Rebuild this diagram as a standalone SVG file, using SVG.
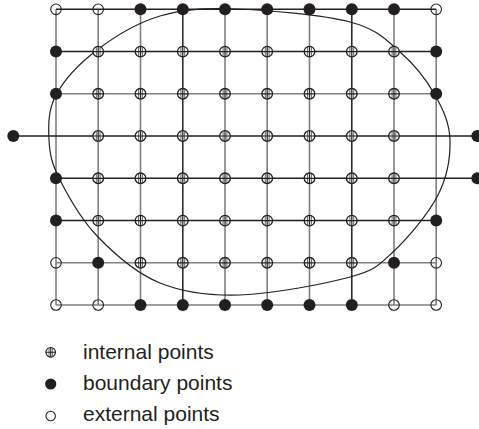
<svg xmlns="http://www.w3.org/2000/svg" xmlns:xlink="http://www.w3.org/1999/xlink" width="479" height="429" viewBox="0 0 479 429">
<style>
.gl{stroke:#808080;stroke-width:1.6;fill:none}
.bl{stroke:#231f20;stroke-width:1.5;fill:none}
.curve{stroke:#231f20;stroke-width:1.2;fill:none}
.lbl{font-family:"Liberation Sans",Arial,Helvetica,sans-serif;font-size:21px;fill:#231f20}
</style>
<defs>
<g id="int">
<circle r="5.3" fill="#fff" stroke="#231f20" stroke-width="1.3"/>
<path d="M-5.3 0H5.3M0 -5.3V5.3" stroke="#231f20" stroke-width="1.2"/>
<path d="M-1.9 -4.9V4.9M1.9 -4.9V4.9" stroke="#231f20" stroke-width="0.7"/>
</g>
<circle id="bnd" r="6" fill="#231f20"/>
<circle id="ext" r="5.3" fill="none" stroke="#231f20" stroke-width="1.1"/>
</defs>
<rect width="479" height="429" fill="#fff"/>
<g id="connectors">
<g id="grid-gray">
<path class="gl" d="M56 9.3V305M98.2 9.3V305M140.5 9.3V305M225 9.3V305M267.2 9.3V305M309.5 9.3V305M394 9.3V305M436.2 9.3V305"/>
<path class="gl" d="M56 93.8H436.2M56 262.8H436.2M56 305H436.2"/>
</g>
<g id="grid-black">
<path class="bl" d="M56 9.3H436.2M56 51.6H436.2M13 136H477M56 178.3H477M56 220.6H436.2"/>
<path class="bl" d="M182.8 9.3V305M351.8 9.3V305"/>
</g>
<path id="boundary-curve" class="curve" d="M235 9C266.7 10 322.5 14.8 350 22C377.5 29.2 385.8 39.8 400 52C414.2 64.2 426.7 80.3 435 95C443.3 109.7 449.5 123.3 450 140C450.5 156.7 447.5 176.3 438 195C428.5 213.7 407.7 238.3 393 252C378.3 265.7 375.5 270 350 277C324.5 284 271.7 294 240 295C208.3 296 183.7 292.5 160 283C136.3 273.5 114.7 254.2 98 237C81.3 219.8 68.2 196.2 60 180C51.8 163.8 49.7 154.2 49 140C48.3 125.8 48 110 56 95C64 80 79.7 63.2 97 50C114.3 36.8 137 22.8 160 16C183 9.2 203.3 8 235 9Z"/>
</g>
<g id="points">
<g id="p0-0"><use xlink:href="#ext" x="56" y="9.3"/></g>
<g id="p0-1"><use xlink:href="#ext" x="98.2" y="9.3"/></g>
<g id="p0-2"><use xlink:href="#bnd" x="140.5" y="9.3"/></g>
<g id="p0-3"><use xlink:href="#bnd" x="182.8" y="9.3"/></g>
<g id="p0-4"><use xlink:href="#bnd" x="225" y="9.3"/></g>
<g id="p0-5"><use xlink:href="#bnd" x="267.2" y="9.3"/></g>
<g id="p0-6"><use xlink:href="#bnd" x="309.5" y="9.3"/></g>
<g id="p0-7"><use xlink:href="#bnd" x="351.8" y="9.3"/></g>
<g id="p0-8"><use xlink:href="#bnd" x="394" y="9.3"/></g>
<g id="p0-9"><use xlink:href="#ext" x="436.2" y="9.3"/></g>

<g id="p1-0"><use xlink:href="#bnd" x="56" y="51.6"/></g>
<g id="p1-1"><use xlink:href="#int" x="98.2" y="51.6"/></g>
<g id="p1-2"><use xlink:href="#int" x="140.5" y="51.6"/></g>
<g id="p1-3"><use xlink:href="#int" x="182.8" y="51.6"/></g>
<g id="p1-4"><use xlink:href="#int" x="225" y="51.6"/></g>
<g id="p1-5"><use xlink:href="#int" x="267.2" y="51.6"/></g>
<g id="p1-6"><use xlink:href="#int" x="309.5" y="51.6"/></g>
<g id="p1-7"><use xlink:href="#int" x="351.8" y="51.6"/></g>
<g id="p1-8"><use xlink:href="#int" x="394" y="51.6"/></g>
<g id="p1-9"><use xlink:href="#bnd" x="436.2" y="51.6"/></g>

<g id="p2-0"><use xlink:href="#bnd" x="56" y="93.8"/></g>
<g id="p2-1"><use xlink:href="#int" x="98.2" y="93.8"/></g>
<g id="p2-2"><use xlink:href="#int" x="140.5" y="93.8"/></g>
<g id="p2-3"><use xlink:href="#int" x="182.8" y="93.8"/></g>
<g id="p2-4"><use xlink:href="#int" x="225" y="93.8"/></g>
<g id="p2-5"><use xlink:href="#int" x="267.2" y="93.8"/></g>
<g id="p2-6"><use xlink:href="#int" x="309.5" y="93.8"/></g>
<g id="p2-7"><use xlink:href="#int" x="351.8" y="93.8"/></g>
<g id="p2-8"><use xlink:href="#int" x="394" y="93.8"/></g>
<g id="p2-9"><use xlink:href="#bnd" x="436.2" y="93.8"/></g>

<g id="p3-left"><use xlink:href="#bnd" x="13.3" y="136"/></g>
<g id="p3-1"><use xlink:href="#int" x="98.2" y="136"/></g>
<g id="p3-2"><use xlink:href="#int" x="140.5" y="136"/></g>
<g id="p3-3"><use xlink:href="#int" x="182.8" y="136"/></g>
<g id="p3-4"><use xlink:href="#int" x="225" y="136"/></g>
<g id="p3-5"><use xlink:href="#int" x="267.2" y="136"/></g>
<g id="p3-6"><use xlink:href="#int" x="309.5" y="136"/></g>
<g id="p3-7"><use xlink:href="#int" x="351.8" y="136"/></g>
<g id="p3-8"><use xlink:href="#int" x="394" y="136"/></g>
<g id="p3-right"><use xlink:href="#bnd" x="477.3" y="136"/></g>

<g id="p4-0"><use xlink:href="#bnd" x="56" y="178.3"/></g>
<g id="p4-1"><use xlink:href="#int" x="98.2" y="178.3"/></g>
<g id="p4-2"><use xlink:href="#int" x="140.5" y="178.3"/></g>
<g id="p4-3"><use xlink:href="#int" x="182.8" y="178.3"/></g>
<g id="p4-4"><use xlink:href="#int" x="225" y="178.3"/></g>
<g id="p4-5"><use xlink:href="#int" x="267.2" y="178.3"/></g>
<g id="p4-6"><use xlink:href="#int" x="309.5" y="178.3"/></g>
<g id="p4-7"><use xlink:href="#int" x="351.8" y="178.3"/></g>
<g id="p4-8"><use xlink:href="#int" x="394" y="178.3"/></g>
<g id="p4-right"><use xlink:href="#bnd" x="477.3" y="178.3"/></g>

<g id="p5-0"><use xlink:href="#bnd" x="56" y="220.6"/></g>
<g id="p5-1"><use xlink:href="#int" x="98.2" y="220.6"/></g>
<g id="p5-2"><use xlink:href="#int" x="140.5" y="220.6"/></g>
<g id="p5-3"><use xlink:href="#int" x="182.8" y="220.6"/></g>
<g id="p5-4"><use xlink:href="#int" x="225" y="220.6"/></g>
<g id="p5-5"><use xlink:href="#int" x="267.2" y="220.6"/></g>
<g id="p5-6"><use xlink:href="#int" x="309.5" y="220.6"/></g>
<g id="p5-7"><use xlink:href="#int" x="351.8" y="220.6"/></g>
<g id="p5-8"><use xlink:href="#int" x="394" y="220.6"/></g>
<g id="p5-9"><use xlink:href="#bnd" x="436.2" y="220.6"/></g>

<g id="p6-0"><use xlink:href="#ext" x="56" y="262.8"/></g>
<g id="p6-1"><use xlink:href="#bnd" x="98.2" y="262.8"/></g>
<g id="p6-2"><use xlink:href="#int" x="140.5" y="262.8"/></g>
<g id="p6-3"><use xlink:href="#int" x="182.8" y="262.8"/></g>
<g id="p6-4"><use xlink:href="#int" x="225" y="262.8"/></g>
<g id="p6-5"><use xlink:href="#int" x="267.2" y="262.8"/></g>
<g id="p6-6"><use xlink:href="#int" x="309.5" y="262.8"/></g>
<g id="p6-7"><use xlink:href="#int" x="351.8" y="262.8"/></g>
<g id="p6-8"><use xlink:href="#bnd" x="394" y="262.8"/></g>
<g id="p6-9"><use xlink:href="#ext" x="436.2" y="262.8"/></g>

<g id="p7-0"><use xlink:href="#ext" x="56" y="305"/></g>
<g id="p7-1"><use xlink:href="#ext" x="98.2" y="305"/></g>
<g id="p7-2"><use xlink:href="#bnd" x="140.5" y="305"/></g>
<g id="p7-3"><use xlink:href="#bnd" x="182.8" y="305"/></g>
<g id="p7-4"><use xlink:href="#bnd" x="225" y="305"/></g>
<g id="p7-5"><use xlink:href="#bnd" x="267.2" y="305"/></g>
<g id="p7-6"><use xlink:href="#bnd" x="309.5" y="305"/></g>
<g id="p7-7"><use xlink:href="#bnd" x="351.8" y="305"/></g>
<g id="p7-8"><use xlink:href="#ext" x="394" y="305"/></g>
<g id="p7-9"><use xlink:href="#ext" x="436.2" y="305"/></g>
</g>
<g id="legend">
<g id="legend-internal">
<g transform="translate(50.7 352.3) scale(0.9)"><use xlink:href="#int"/></g>
<text class="lbl" x="83" y="358.5">internal points</text>
</g>
<g id="legend-boundary">
<circle cx="50.7" cy="384" r="5.6" fill="#231f20"/>
<text class="lbl" x="83" y="390">boundary points</text>
</g>
<g id="legend-external">
<circle cx="50.7" cy="416" r="4.7" fill="none" stroke="#231f20" stroke-width="1.1"/>
<text class="lbl" x="83" y="421">external points</text>
</g>
</g>
</svg>
